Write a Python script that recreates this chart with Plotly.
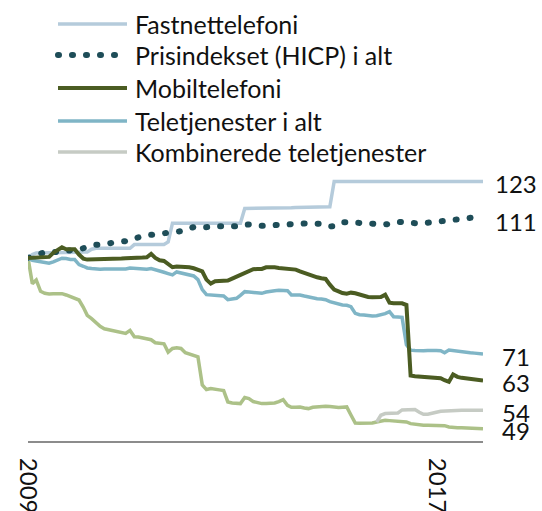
import plotly.graph_objects as go
import pandas as pd

# ---------------- data ----------------
months = pd.date_range("2009-01-01", periods=108, freq="MS").strftime("%Y-%m-%d").tolist()

fastnett = [100.0, 101.0, 101.5, 101.5, 101.5, 101.5, 101.5, 101.6, 101.6, 101.6, 101.7, 101.7,
            101.7, 101.8, 101.8, 102.6, 102.9, 102.9, 102.9, 102.9, 102.9, 102.9, 102.9, 102.9,
            102.9, 104.0, 104.0, 104.0, 104.0, 104.0, 104.0, 104.0, 104.0, 104.8, 110.4, 110.4,
            110.4, 110.4, 110.4, 110.4, 110.4, 110.4, 110.4, 110.4, 110.4, 110.4, 110.4, 110.4,
            110.4, 110.4, 110.4, 114.8, 114.8, 114.8, 114.8, 114.9, 114.9, 114.9, 114.9, 115.0,
            115.0, 115.0, 115.0, 115.1, 115.1, 115.1, 115.1, 115.2, 115.2, 115.2, 115.3, 115.3,
            122.9, 122.9, 122.9, 122.9, 122.9, 122.9, 122.9, 122.9, 122.9, 122.9, 122.9, 122.9,
            122.9, 122.9, 122.9, 122.9, 122.9, 122.9, 122.9, 122.9, 122.9, 122.9, 122.9, 122.9,
            122.9, 122.9, 122.9, 122.9, 122.9, 122.9, 122.9, 122.9, 122.9, 122.9, 122.9, 122.9]

hicp = [100.0, 100.5, 101.0, 101.6, 101.7, 101.7, 101.6, 101.8, 101.9, 102.0, 102.2, 102.4,
        102.6, 102.9, 103.3, 103.6, 103.9, 104.0, 104.2, 104.4, 104.5, 104.6, 104.7, 104.8,
        105.2, 105.8, 106.2, 106.5, 106.8, 106.9, 107.0, 107.2, 107.3, 107.4, 107.5, 107.6,
        108.0, 108.6, 109.1, 109.2, 109.0, 109.0, 109.0, 109.3, 109.5, 109.6, 109.5, 109.3,
        109.2, 109.5, 109.9, 110.1, 110.0, 109.8, 109.6, 109.6, 109.7, 109.8, 109.8, 110.0,
        110.2, 110.3, 110.3, 110.3, 110.3, 110.3, 110.3, 110.3, 110.3, 110.2, 109.8, 109.4,
        109.5, 110.2, 110.7, 110.7, 110.6, 110.6, 110.6, 110.5, 110.5, 110.4, 110.2, 110.1,
        110.0, 110.2, 110.6, 110.8, 110.7, 110.5, 110.4, 110.3, 110.3, 110.4, 110.5, 110.7,
        110.9, 111.2, 111.3, 111.3, 111.5, 111.6, 111.7, 111.8, 112.0, 111.9, 111.7, 111.5]

mobil = [100.0, 100.0, 100.1, 100.0, 100.1, 100.3, 101.5, 102.5, 103.2, 102.6, 102.6, 102.6,
         101.0, 99.8, 99.5, 99.5, 99.5, 99.5, 99.6, 99.7, 99.7, 99.8, 99.8, 99.9,
         99.9, 100.0, 100.0, 100.1, 100.2, 101.2, 100.0, 99.3, 99.1, 98.3, 97.2, 97.4,
         97.4, 97.2, 97.2, 96.9, 96.4, 96.0, 93.5, 92.3, 93.0, 93.0, 93.1, 93.2,
         93.8, 94.4, 95.0, 95.5, 96.3, 96.6, 96.7, 96.7, 97.2, 97.3, 97.2, 97.0,
         96.9, 96.8, 96.6, 96.5, 96.0, 95.5, 94.9, 94.5, 94.2, 93.9, 93.7, 92.0,
         90.5, 90.0, 89.5, 89.3, 89.6, 89.4, 89.0, 88.7, 88.3, 88.2, 88.2, 88.3,
         89.0, 86.6, 86.4, 86.4, 86.4, 85.9, 64.8, 64.6, 64.5, 64.5, 64.4, 64.4,
         64.2, 64.0, 63.4, 62.9, 65.1, 64.4, 64.1, 63.9, 63.6, 63.4, 63.3, 63.3]

teletj = [100.0, 99.3, 99.1, 98.9, 98.7, 98.4, 98.8, 99.4, 99.9, 99.8, 99.5, 99.5,
          98.0, 97.5, 97.0, 96.8, 96.6, 96.6, 96.7, 96.7, 96.7, 96.6, 96.7, 96.7,
          97.0, 96.9, 96.7, 96.6, 96.6, 96.8, 96.5, 96.1, 95.7, 95.3, 94.9, 95.8,
          95.5, 95.2, 94.8, 94.6, 93.5, 90.5, 89.0, 88.9, 88.6, 88.6, 88.6, 87.5,
          87.6, 87.9, 88.8, 89.9, 89.8, 89.7, 89.5, 89.4, 89.8, 90.1, 90.2, 90.3,
          90.3, 90.2, 88.9, 88.9, 88.9, 88.6, 88.3, 87.9, 87.8, 87.7, 87.5, 86.9,
          86.5, 86.1, 85.9, 85.8, 85.4, 83.4, 83.0, 82.9, 82.7, 82.6, 82.7, 82.9,
          83.3, 83.9, 82.4, 82.3, 82.2, 74.0, 72.4, 72.3, 72.2, 72.2, 72.3, 72.4,
          72.3, 72.2, 71.6, 72.4, 72.2, 72.1, 71.9, 71.8, 71.6, 71.5, 71.3, 71.2]

# series without legend entry (light green)
green = [100.0, 92.3, 93.4, 90.0, 89.4, 89.2, 89.3, 89.4, 89.3, 88.9, 88.4, 87.9,
         87.4, 85.2, 82.8, 81.8, 80.5, 79.5, 78.8, 78.5, 78.4, 78.0, 77.7, 77.4,
         78.3, 76.4, 76.3, 76.1, 75.9, 75.5, 74.6, 74.5, 74.3, 71.8, 72.9, 73.1,
         72.9, 71.6, 71.2, 70.7, 70.4, 62.0, 60.6, 60.9, 60.8, 60.5, 60.3, 56.9,
         56.6, 56.5, 56.4, 58.2, 57.9, 57.0, 56.6, 56.4, 56.4, 56.5, 56.6, 57.0,
         57.6, 55.9, 55.3, 55.3, 55.4, 55.1, 54.9, 55.3, 55.4, 55.6, 55.6, 55.5,
         55.3, 55.2, 55.3, 55.4, 53.0, 50.6, 50.5, 50.5, 50.6, 50.6, 50.9, 51.2,
         51.4, 51.3, 51.2, 51.1, 51.0, 50.9, 50.4, 50.2, 50.0, 49.9, 49.9, 49.9,
         49.9, 49.9, 49.8, 49.4, 49.2, 49.2, 49.2, 49.1, 49.0, 48.9, 48.9, 48.9]

kombinert_months = months[82:]
kombinert = [50.9, 52.9, 53.4, 53.4, 53.4, 53.6, 54.5, 54.6, 54.6, 54.6, 53.8, 53.2,
             53.2, 53.4, 53.8, 54.1, 54.2, 54.3, 54.4, 54.4, 54.4, 54.4, 54.4, 54.4, 54.4, 54.4]

legend_names = ["Fastnettelefoni", "Prisindekset (HICP) i alt", "Mobiltelefoni",
                "Teletjenester i alt", "Kombinerede teletjenester"]
end_labels = ["123", "111", "63", "71", "54", "49"]
tick_vals = ["2009-01-01", "2017-01-01"]
tick_text = ["2009", "2017"]

# ---------------- style / layout ----------------
W, H = 542, 511
L, R, T, B = 28, 59, 158, 70
PW, PH = W - L - R, H - T - B
FONT = "Lato"
C_FAST = "#b5cbdb"
C_HICP = "#1e4d58"
C_MOB = "#4b5c22"
C_TELE = "#7fb5c6"
C_KOMB = "#c6cbc4"
C_GREEN = "#acc188"
DOT = "1px,13px"

def px_x(px):
    return (px - L) / PW

def px_y(py):
    return (H - B - py) / PH

fig = go.Figure()
fig.add_trace(go.Scatter(x=months, y=green, mode="lines", line=dict(color=C_GREEN, width=3.5), showlegend=False))
fig.add_trace(go.Scatter(x=months, y=fastnett, mode="lines", line=dict(color=C_FAST, width=3.5), showlegend=False))
fig.add_trace(go.Scatter(x=kombinert_months, y=kombinert, mode="lines", line=dict(color=C_KOMB, width=3.5), showlegend=False))
fig.add_trace(go.Scatter(x=months, y=hicp, mode="lines", line=dict(color=C_HICP, width=6, dash=DOT), showlegend=False))
fig.add_trace(go.Scatter(x=months, y=teletj, mode="lines", line=dict(color=C_TELE, width=3.5), showlegend=False))
fig.add_trace(go.Scatter(x=months, y=mobil, mode="lines", line=dict(color=C_MOB, width=4), showlegend=False))

# manual legend
leg_colors = [C_FAST, C_HICP, C_MOB, C_TELE, C_KOMB]
leg_rows = [24, 55, 88, 121, 152]
for name, col, yy in zip(legend_names, leg_colors, leg_rows):
    if col == C_HICP:
        fig.add_shape(type="line", xref="paper", yref="paper", x0=px_x(58), x1=px_x(118),
                      y0=px_y(yy), y1=px_y(yy), line=dict(color=col, width=6, dash=DOT))
    else:
        fig.add_shape(type="line", xref="paper", yref="paper", x0=px_x(58), x1=px_x(127),
                      y0=px_y(yy), y1=px_y(yy), line=dict(color=col, width=4 if col == C_MOB else 3.5))
    fig.add_annotation(text=name, xref="paper", yref="paper", x=px_x(133), y=px_y(yy),
                       xanchor="left", yanchor="middle", showarrow=False,
                       font=dict(family=FONT, size=25, color="#111111"))

# end labels at last values
last_vals = [fastnett[-1], hicp[-1], mobil[-1], teletj[-1], kombinert[-1], green[-1]]
for lab, v in zip(end_labels, last_vals):
    fig.add_annotation(text=lab, xref="paper", yref="y", x=px_x(516), y=v, xanchor="center",
                       yanchor="middle", yshift=-2, showarrow=False,
                       font=dict(family=FONT, size=24, color="#111111"))

fig.update_layout(
    width=W, height=H, margin=dict(l=L, r=R, t=T, b=B, pad=0, autoexpand=False),
    paper_bgcolor="white", plot_bgcolor="white", showlegend=False,
    font=dict(family=FONT, size=24, color="#111111"),
    xaxis=dict(type="date", range=[months[0], months[-1]], showgrid=False, zeroline=False,
               automargin=False,
               showline=True, linecolor="#8c8c8c", linewidth=2,
               tickvals=tick_vals, ticktext=tick_text, tickangle=90,
               ticks="outside", ticklen=10, tickcolor="rgba(0,0,0,0)",
               tickfont=dict(family=FONT, size=24, color="#111111")),
    yaxis=dict(range=[45.2, 129.9], visible=False, showgrid=False, zeroline=False, automargin=False),
)

post = """
document.documentElement.style.margin = '0';
document.body.style.margin = '0';
document.body.style.padding = '0';
function roundDots(){
  document.querySelectorAll('path').forEach(function(p){
    var d = (p.style.strokeDasharray || '').replace(/\\s/g,'');
    if (d.indexOf('1px,13px') === 0) { p.style.strokeLinecap = 'round'; }
  });
}
roundDots();
setTimeout(roundDots, 50);
"""
fig.write_html("out.html", post_script=post, config={"displayModeBar": False})
